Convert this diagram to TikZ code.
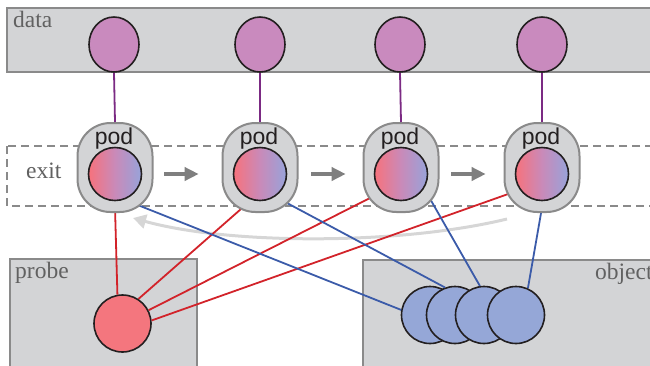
\documentclass[tikz,border=0pt]{standalone}
\usepackage{fontspec}
\setmainfont{Liberation Serif}
\newfontfamily\podfont{Liberation Sans}
\usetikzlibrary{shapes.geometric,arrows.meta,calc}
\definecolor{boxfill}{HTML}{D3D4D6}
\definecolor{boxline}{HTML}{8A8A8A}
\definecolor{labelgray}{HTML}{616161}
\definecolor{datafill}{HTML}{C98ABE}
\definecolor{ink}{HTML}{231F20}
\definecolor{purpleline}{HTML}{7B2A83}
\definecolor{redline}{HTML}{D2232A}
\definecolor{blueline}{HTML}{3B5BA9}
\definecolor{probefill}{HTML}{F4767E}
\definecolor{objfill}{HTML}{95A7D7}
\definecolor{gradleft}{HTML}{F7727C}
\definecolor{gradmid}{HTML}{C98AB9}
\definecolor{gradright}{HTML}{97A3DA}
\definecolor{arrowgray}{HTML}{7F7F7F}
\definecolor{curvegray}{HTML}{D6D6D6}
\begin{document}
\begin{tikzpicture}[x=1pt,y=-1pt,
  band/.style={draw=boxline, fill=boxfill, line width=2pt},
  exitbox/.style={draw=boxline, line width=1.5pt, dash pattern=on 8pt off 5pt},
  lbl/.style={text=labelgray, font=\fontsize{23.5}{26}\selectfont, inner sep=0pt, anchor=base west},
  dataell/.style={ellipse, draw=ink, fill=datafill, line width=1.6pt, minimum width=50pt, minimum height=55pt, inner sep=0pt},
  podshape/.style={rectangle, rounded corners=33pt, draw=boxline, fill=boxfill, line width=2pt, minimum width=75pt, minimum height=89pt, inner sep=0pt},
  podtext/.style={font=\podfont\fontsize{23}{26}\selectfont, text=ink, inner sep=0pt, anchor=base},
  innerball/.style={circle, draw=ink, line width=1.6pt, minimum size=53pt, inner sep=0pt, left color=gradleft, right color=gradright, middle color=gradmid},
  probeball/.style={circle, draw=ink, line width=1.6pt, minimum size=57pt, inner sep=0pt, fill=probefill},
  objball/.style={circle, draw=ink, line width=1.6pt, minimum size=57pt, inner sep=0pt, fill=objfill},
  pline/.style={purpleline, line width=1.8pt},
  rline/.style={redline, line width=1.8pt},
  bline/.style={blueline, line width=1.8pt},
  podarrow/.style={arrowgray, line width=3.5pt, -{Triangle[length=14pt,width=13pt]}},
  backarrow/.style={curvegray, line width=3pt, -{Triangle[length=13pt,width=14pt]}}
]
\useasboundingbox (0,0) rectangle (650,365);
\clip (0,0) rectangle (650,365);
% boxes
\draw[band] (7,8) rectangle (660,72);
\draw[exitbox] (7,146) rectangle (660,206);
\draw[band] (10,259) rectangle (197,375);
\draw[band] (363,260) rectangle (660,375);
\node[lbl] (datalbl) at (13,27) {data};
\node[lbl] (exitlbl) at (26,178) {exit};
\node[lbl] (probelbl) at (15,278) {probe};
\node[lbl] (objlbl) at (595,279) {object};
% data ellipses
\node[dataell] (d1) at (114,44.5) {};
\node[dataell] (d2) at (260,44.5) {};
\node[dataell] (d3) at (400,44.5) {};
\node[dataell] (d4) at (542,44.5) {};
% pod centres
\path (115,167.5) coordinate (p1c) (260,167.5) coordinate (p2c)
      (401,167.5) coordinate (p3c) (542,167.5) coordinate (p4c);
\path (122.5,323.5) coordinate (prc);
% back curve
\coordinate (cstart) at (507,219);
\coordinate (cend) at (133,218);
\draw[backarrow] (cstart) .. controls (400,245) and (230,245) .. (cend);
% probe and object balls
\node[probeball] (probe) at (prc) {};
\node[objball] (o1) at (430,315) {};
\node[objball] (o2) at (455,315) {};
\node[objball] (o3) at (484,315) {};
\node[objball] (o4) at (516,315) {};
% lines
\draw[rline] ($(p1c)+(0,40)$) -- (probe.100);
\draw[rline] ($(p2c)+(-15,38)$) -- (probe.57);
\draw[rline] ($(p3c)+(-28,29)$) -- (probe.27);
\draw[rline] ($(p4c)+(-31,25.5)$) -- (probe.6);
\draw[bline] ($(p1c)+(19,36)$) -- (o1.170);
\draw[bline] ($(p2c)+(27,35.5)$) -- (o2.110);
\draw[bline] ($(p3c)+(26,26)$) -- (o3.98);
\draw[bline] ($(p4c)+(0,40)$) -- (o4.66);
% pods
\node[podshape] (pod1) at (p1c) {};
\node[podshape] (pod2) at (p2c) {};
\node[podshape] (pod3) at (p3c) {};
\node[podshape] (pod4) at (p4c) {};
\draw[pline] (d1.south) -- (pod1.north);
\draw[pline] (d2.south) -- (pod2.north);
\draw[pline] (d3.south) -- (pod3.north);
\draw[pline] (d4.south) -- (pod4.north);
\node[podtext] (t1) at (114,144) {pod};
\node[podtext] (t2) at (259,144) {pod};
\node[podtext] (t3) at (400,144) {pod};
\node[podtext] (t4) at (541,144) {pod};
\node[innerball] (i1) at (115,174) {};
\node[innerball] (i2) at (260,174) {};
\node[innerball] (i3) at (401,174) {};
\node[innerball] (i4) at (542,174) {};
\draw[podarrow, shorten <=22pt, shorten >=34pt] (i1) -- (i2);
\draw[podarrow, shorten <=24pt, shorten >=28pt] (i2) -- (i3);
\draw[podarrow, shorten <=23pt, shorten >=29pt] (i3) -- (i4);
\end{tikzpicture}
\end{document}
